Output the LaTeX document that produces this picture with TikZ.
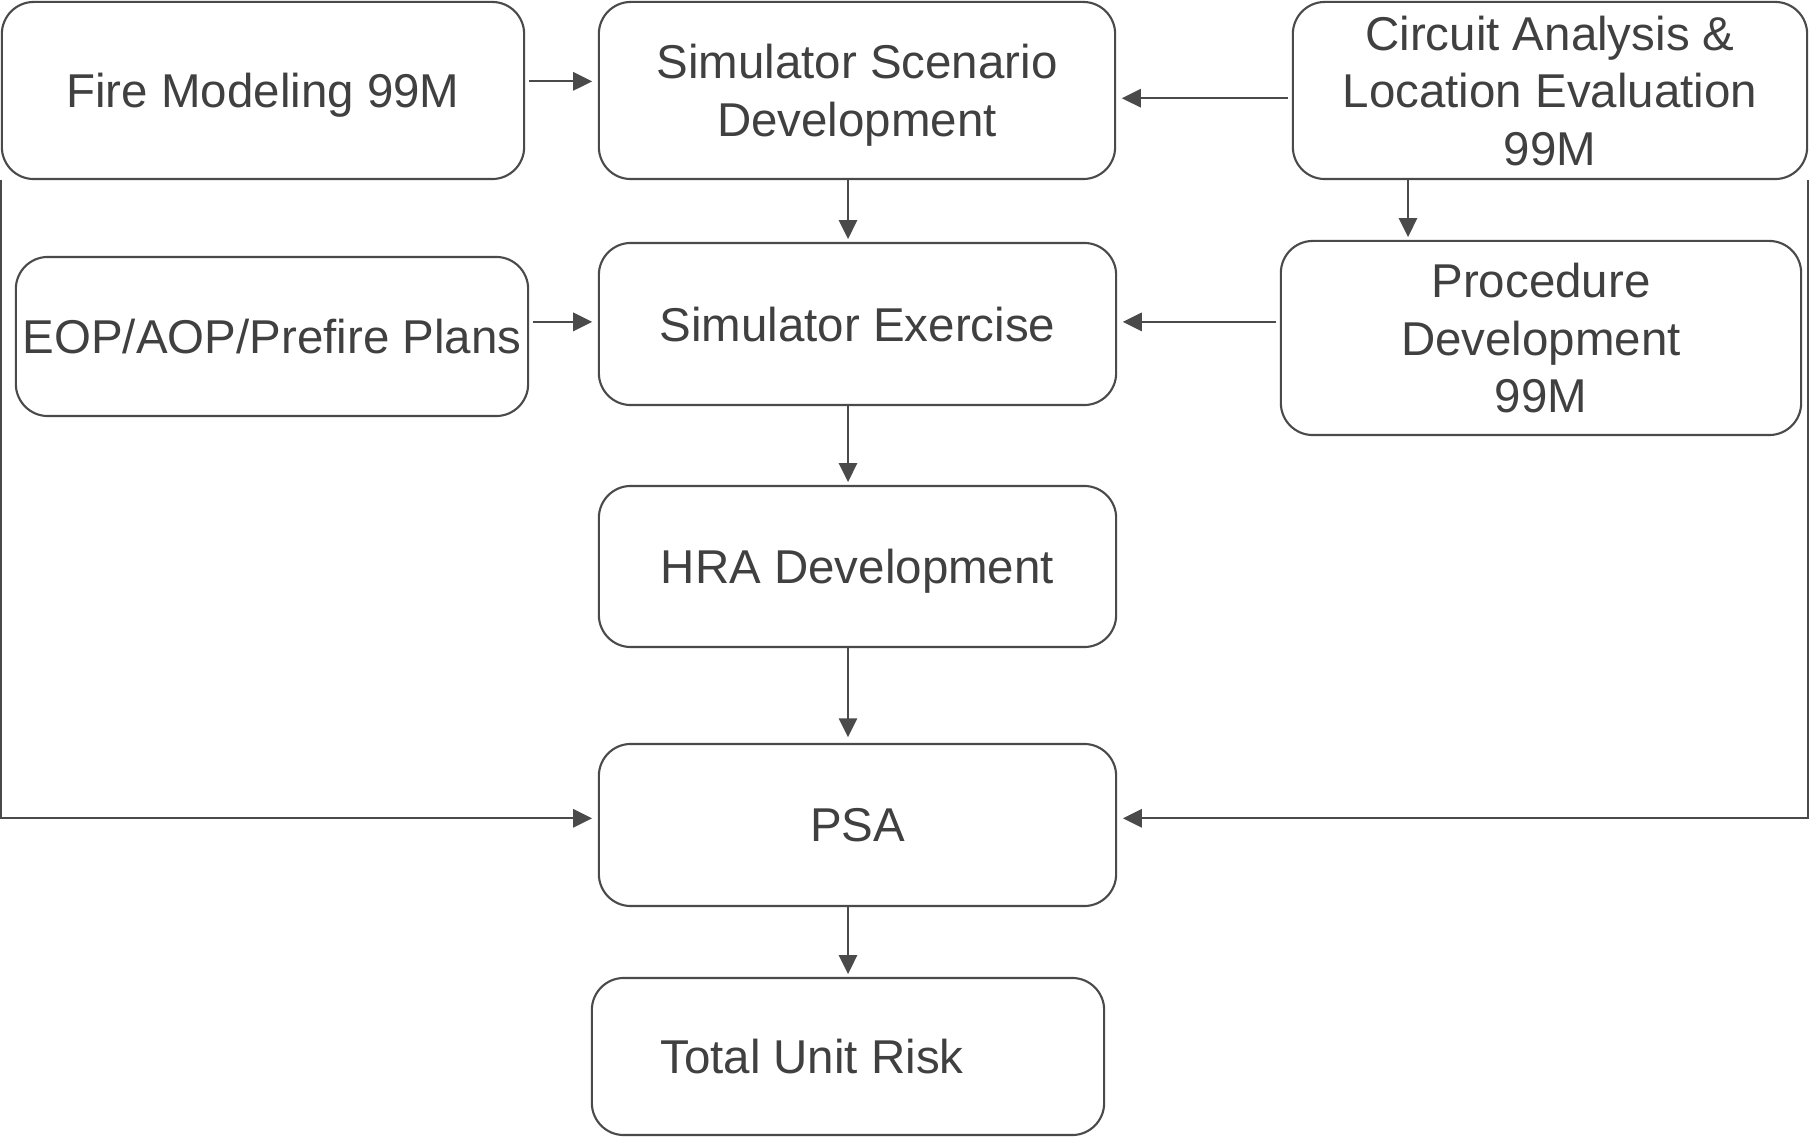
\documentclass[tikz,border=0pt]{standalone}
\usepackage{fontspec}
\setmainfont{Liberation Sans}
\usepackage{tikz}
\usetikzlibrary{arrows.meta,positioning}

\definecolor{inkgray}{HTML}{404040}
\definecolor{linegray}{HTML}{4A4A4A}

\tikzset{
	box/.style={draw=linegray, line width=0.6pt, rounded corners=0.32cm, inner sep=0pt,
		align=center, text=inkgray, text depth=0pt, font=\fontsize{13.5}{16.4}\selectfont},
	arr/.style={draw=linegray, line width=0.6pt, -{Triangle[length=5.4pt,width=5.2pt]},
		shorten <=1.2pt, shorten >=1.6pt},
	down/.style={arr, shorten <=0pt, shorten >=0.8pt},
}

\begin{document}
\begin{tikzpicture}[x=0.01cm, y=-0.01cm]
	\useasboundingbox (0,0) rectangle (1809,1137);
	
	\node[box, minimum width=5.22cm, minimum height=1.77cm] (fire) at (263,90.5) {Fire Modeling 99M} ;
	\node[box, minimum width=5.16cm, minimum height=1.77cm] (scen) at (857,90.5) {Simulator Scenario\\Development} ;
	\node[box, minimum width=5.14cm, minimum height=1.77cm] (circ) at (1550,90.5) {Circuit Analysis \&\\Location Evaluation\\99M} ;
	\node[box, minimum width=5.12cm, minimum height=1.59cm] (eop) at (272,336.5) {EOP/AOP/Prefire Plans} ;
	\node[box, minimum width=5.17cm, minimum height=1.62cm] (simex) at (857.5,324) {Simulator Exercise} ;
	\node[box, minimum width=5.20cm, minimum height=1.94cm] (proc) at (1541,338) {Procedure\\Development\\99M} ;
	\node[box, minimum width=5.17cm, minimum height=1.61cm] (hra) at (857.5,566.5) {HRA Development} ;
	\node[box, minimum width=5.17cm, minimum height=1.62cm] (psa) at (857.5,825) {PSA} ;
	\node[box, minimum width=5.12cm, minimum height=1.57cm] (total) at (848,1056.5) {\hspace*{-0.72cm}Total Unit Risk} ;
	
	\coordinate (spine) at (848,0) ;
	\coordinate (drop) at (1408,0) ;
	
	% inputs to the scenario and the exercise
	\draw[arr] ([yshift=2.6pt]fire.east) -- ([yshift=2.6pt]scen.west) ;
	\draw[arr] ([yshift=-2.2pt]circ.west) -- ([yshift=-2.2pt]scen.east) ;
	\draw[arr] ([yshift=0.6pt]eop.east |- simex) -- ([yshift=0.6pt]simex.west) ;
	\draw[arr] ([yshift=0.6pt]proc.west |- simex) -- ([yshift=0.6pt]simex.east) ;
	\draw[down] (circ.south -| drop) -- (proc.north -| drop) ;
	
	% main chain
	\draw[down] (scen.south -| spine) -- (simex.north -| spine) ;
	\draw[down] (simex.south -| spine) -- (hra.north -| spine) ;
	\draw[down, shorten >=1.6pt] (hra.south -| spine) -- (psa.north -| spine) ;
	\draw[down] (psa.south -| spine) -- (total.north -| spine) ;
	
	% side feeds into PSA
	\draw[arr, shorten <=0pt] (fire.south west) |- ([yshift=1.9pt]psa.west) ;
	\draw[arr, shorten <=0pt] (circ.south east) |- ([yshift=1.9pt]psa.east) ;
\end{tikzpicture}
\end{document}
